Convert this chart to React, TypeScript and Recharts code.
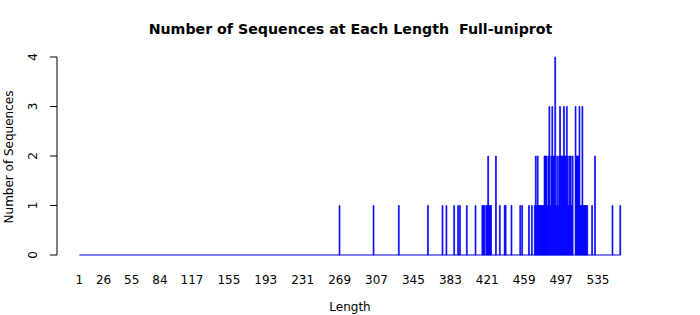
import { ComposedChart, Bar, XAxis, YAxis, ReferenceLine } from "recharts";

// sequence lengths that have at least one sequence, and how many
const lengths = [
  269, 304, 330, 360, 375, 379, 387, 391, 393, 400, 409, 416, 417, 418, 420, 421, 422, 423, 424, 425,
  430, 434, 439, 440, 446, 455, 457, 464, 467, 470, 471, 472, 473, 474, 475, 476, 477, 478, 479, 480,
  481, 482, 483, 484, 485, 486, 487, 488, 489, 490, 491, 492, 493, 494, 495, 496, 497, 498, 499, 500,
  501, 502, 503, 504, 505, 506, 507, 508, 509, 512, 513, 514, 515, 516, 517, 518, 519, 520, 521, 522,
  523, 524, 529, 532, 550, 558,
];
const counts = [
  1, 1, 1, 1, 1, 1, 1, 1, 1, 1, 1, 1, 1, 1, 1, 1, 2, 1, 1, 1,
  2, 1, 1, 1, 1, 1, 1, 1, 1, 1, 2, 1, 2, 1, 1, 1, 1, 1, 1, 2,
  2, 2, 1, 2, 3, 1, 2, 3, 2, 2, 4, 1, 2, 1, 2, 3, 2, 2, 2, 3,
  2, 2, 3, 2, 1, 2, 2, 1, 2, 3, 2, 2, 2, 3, 1, 1, 3, 1, 1, 1,
  1, 1, 1, 2, 1, 1,
];
const firstLength = 1;
const lastLength = 558;

const xTicks = [1, 26, 55, 84, 117, 155, 193, 231, 269, 307, 345, 383, 421, 459, 497, 535];
const yTicks = [0, 1, 2, 3, 4];

const data = lengths.map((length, i) => ({ length, count: counts[i] }));

const FONT = "DejaVu Sans, sans-serif";

const YTick = ({ x, y, payload }: { x?: number; y?: number; payload?: { value: number } }) => {
  const tx = (x ?? 0) - 12.6;
  return (
    <text
      x={tx}
      y={y}
      transform={`rotate(-90 ${tx} ${y})`}
      textAnchor="middle"
      fontSize={12}
      fontFamily={FONT}
      fill="#000"
    >
      {payload?.value}
    </text>
  );
};

export default function App() {
  return (
    <div style={{ position: "absolute", left: 0, top: 0, width: 700, height: 315, background: "#fff" }}>
      <ComposedChart
        width={700}
        height={315}
        data={data}
        margin={{ top: 57, right: 59, left: 0, bottom: 30 }}
      >
        <XAxis
          dataKey="length"
          type="number"
          domain={[-21.96, 579.3]}
          ticks={xTicks}
          interval={0}
          axisLine={false}
          tickLine={false}
          tickSize={0}
          tickMargin={20}
          height={30}
          allowDataOverflow
          tick={{ fill: "#000", fontSize: 12, fontFamily: FONT }}
        />
        <YAxis
          type="number"
          domain={[0, 4]}
          ticks={yTicks}
          width={57}
          stroke="#000"
          tickSize={7}
          tickMargin={0}
          tick={<YTick />}
        />
        <ReferenceLine
          segment={[
            { x: firstLength, y: 0 },
            { x: lastLength, y: 0 },
          ]}
          stroke="blue"
          strokeWidth={1}
        />
        <Bar
          dataKey="count"
          fill="blue"
          stroke="blue"
          strokeWidth={0.7}
          barSize={1}
          isAnimationActive={false}
        />
      </ComposedChart>
      <svg
        width={700}
        height={315}
        style={{ position: "absolute", left: 0, top: 0, pointerEvents: "none" }}
      >
        <text
          x={350.5}
          y={33.5}
          textAnchor="middle"
          fontSize={14.2}
          fontWeight="bold"
          fontFamily={FONT}
          style={{ whiteSpace: "pre" }}
        >
          {"Number of Sequences at Each Length  Full-uniprot"}
        </text>
        <text x={350} y={311} textAnchor="middle" fontSize={12} fontFamily={FONT}>
          Length
        </text>
        <text
          x={12.5}
          y={157}
          transform="rotate(-90 12.5 157)"
          textAnchor="middle"
          fontSize={12}
          fontFamily={FONT}
        >
          Number of Sequences
        </text>
      </svg>
    </div>
  );
}
